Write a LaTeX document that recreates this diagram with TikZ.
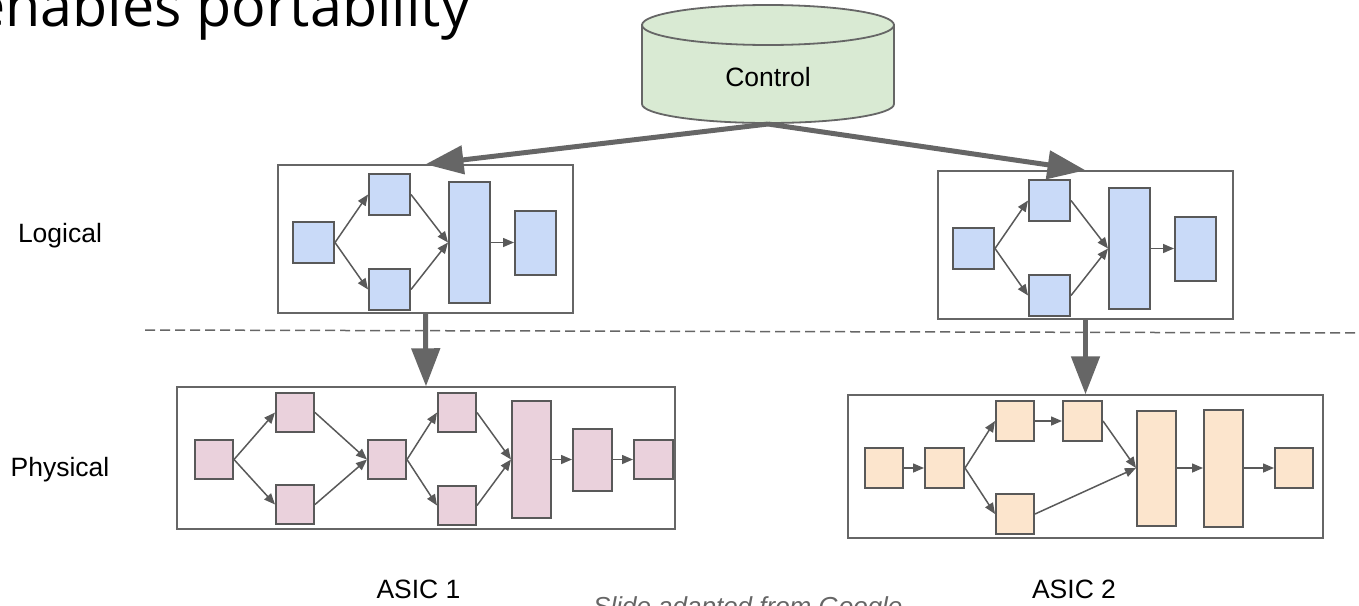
\documentclass[tikz,border=0pt]{standalone}
\usepackage{fontspec}
\setmainfont{Liberation Sans}
\newfontfamily\titlefont{Open Sans}
\usepackage{xcolor}
\usepackage{tikz}
\usetikzlibrary{arrows.meta,positioning}

\definecolor{logicblue}{HTML}{C9DAF8}
\definecolor{physpink}{HTML}{EAD1DC}
\definecolor{physpeach}{HTML}{FCE5CD}
\definecolor{ctrlgreen}{HTML}{D9EAD3}
\definecolor{edgegray}{HTML}{595959}
\definecolor{boxgray}{HTML}{666666}

\begin{document}
\begin{tikzpicture}[
    x=1pt, y=-1pt,
    lbl/.style={font=\fontsize{26.5pt}{30pt}\selectfont, inner sep=0pt},
    panel/.style={rectangle, draw=boxgray, line width=1.4pt, inner sep=0pt},
    blk/.style={rectangle, draw=edgegray, line width=2pt, inner sep=0pt, minimum width=41pt, minimum height=41pt},
    lblk/.style={blk, fill=logicblue},
    pblk/.style={blk, fill=physpink, minimum width=38pt, minimum height=39pt},
    oblk/.style={blk, fill=physpeach, minimum width=38pt, minimum height=40pt},
    flow/.style={draw=edgegray, line width=1.5pt, -{Triangle[length=11pt,width=9pt]}},
    bigarrow/.style={draw=boxgray, line width=5pt, -{Triangle[length=38pt,width=28pt]}},
    cyl/.style={draw=boxgray, line width=1.8pt, fill=ctrlgreen}
]
\path[use as bounding box, clip] (0,0) rectangle (1359,605);

% Title (cut by the page edge)
\node[font=\titlefont\fontsize{57.4pt}{60pt}\selectfont, inner sep=0pt, anchor=base west] (title) at (-27,27) {enables portability};

% Control store
\draw[cyl] (642,25) -- (642,104) arc[start angle=180, end angle=0, x radius=126, y radius=19] -- (894,25) -- cycle;
\draw[cyl] (768,25) ellipse[x radius=126, y radius=20];
\node[lbl] (ctrl) at (768,77) {Control};
\coordinate (ctrl-b) at (768,124);

% Panels
\node[panel, minimum width=295pt, minimum height=148pt] (logL) at (425.5,239) {};
\node[panel, minimum width=295pt, minimum height=148pt] (logR) at (1085.5,245) {};
\node[panel, minimum width=498pt, minimum height=142pt] (phyL) at (426,458) {};
\node[panel, minimum width=475pt, minimum height=143pt] (phyR) at (1085.5,466.5) {};

% Logical, left
\node[lblk] (la) at (313.5,242.5) {};
\node[lblk, above right=5pt and 33pt of la] (lb) {};
\node[lblk, below right=4pt and 33pt of la] (lc) {};
\node[lblk, minimum height=121pt, right=113pt of la] (ld) {};
\node[lblk, minimum height=64pt, right=23pt of ld] (le) {};

% Logical, right
\node[lblk] (ra) at (973.5,248.5) {};
\node[lblk, above right=5pt and 33pt of ra] (rb) {};
\node[lblk, below right=4pt and 33pt of ra] (rc) {};
\node[lblk, minimum height=121pt, right=113pt of ra] (rd) {};
\node[lblk, minimum height=64pt, right=23pt of rd] (re) {};

% Physical, ASIC 1
\node[pblk] (p1) at (214,459.5) {};
\node[pblk, above right=6pt and 41pt of p1] (p2) {};
\node[pblk, below right=4pt and 41pt of p1] (p3) {};
\node[pblk, right=133pt of p1] (p4) {};
\node[pblk, above right=6pt and 30pt of p4] (p5) {};
\node[pblk, below right=5pt and 30pt of p4] (p6) {};
\node[pblk, minimum width=39pt, minimum height=117pt, right=104pt of p4] (p7) {};
\node[pblk, minimum width=39pt, minimum height=62pt, right=20pt of p7] (p8) {};
\node[pblk, minimum width=39pt, right=20pt of p8] (p9) {};

% Physical, ASIC 2
\node[oblk] (q1) at (884,468) {};
\node[oblk, minimum width=39pt, right=20pt of q1] (q2) {};
\node[oblk, above right=5pt and 30pt of q2] (q3) {};
\node[oblk, minimum width=39pt, right=27pt of q3] (q4) {};
\node[oblk, below right=4pt and 30pt of q2] (q5) {};
\node[oblk, minimum width=39pt, minimum height=115pt, right=171pt of q2] (q6) {};
\node[oblk, minimum width=39pt, minimum height=117pt, right=26pt of q6] (q7) {};
\node[oblk, right=30pt of q7] (q8) {};

% Flows
\foreach \s/\t in {la/lb, la/lc, lb/ld, lc/ld, ld/le,
                   ra/rb, ra/rc, rb/rd, rc/rd, rd/re,
                   p1/p2, p1/p3, p2/p4, p3/p4, p4/p5, p4/p6, p5/p7, p6/p7, p7/p8, p8/p9,
                   q1/q2, q2/q3, q2/q5, q3/q4, q4/q6, q5/q6, q6/q7, q7/q8}
    \path[flow] (\s.east) -- (\t.west);

% Divider
\coordinate (cut-l) at (145,330);
\coordinate (cut-r) at (1359,333);
\draw[draw=boxgray, line width=1.5pt, dash pattern=on 10pt off 5pt] (cut-l) -- (cut-r);

% Mapping arrows
\path[bigarrow] (ctrl-b) -- (logL.north);
\path[bigarrow] (ctrl-b) -- (logR.north);
\path[bigarrow] (logL.south) -- (phyL.north);
\path[bigarrow] (logR.south) -- (phyR.north);

% Labels
\node[lbl, anchor=base] (logical) at (60,242) {Logical};
\node[lbl, anchor=base] (physical) at (60,476) {Physical};
\node[lbl, anchor=base] (asic1) at (418.5,598) {ASIC 1};
\node[lbl, anchor=base] (asic2) at (1074,598) {ASIC 2};
\node[lbl, anchor=base west, font=\fontsize{26pt}{30pt}\selectfont\itshape, text=boxgray] (credit) at (593,615) {Slide adapted from Google};

\end{tikzpicture}
\end{document}
